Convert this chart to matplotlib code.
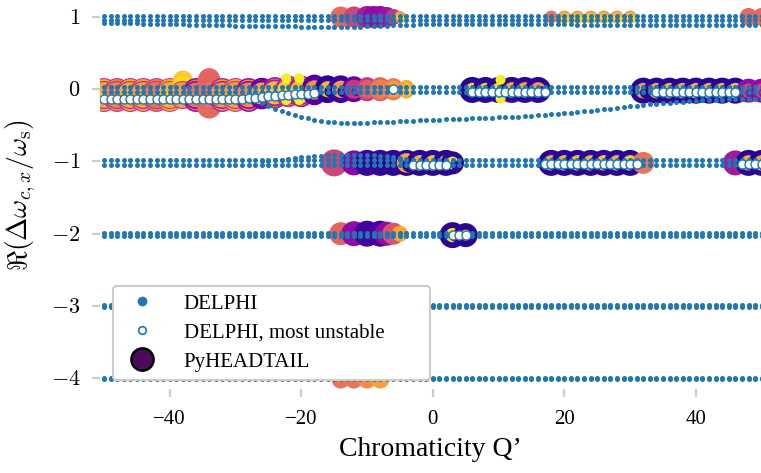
import numpy as np
import matplotlib
matplotlib.use("Agg")
import matplotlib.pyplot as plt
from matplotlib.lines import Line2D

plt.rcParams['font.family'] = ['Liberation Serif', 'DejaVu Serif']
plt.rcParams['mathtext.fontset'] = 'cm'

# ---------------- data ----------------
q_grid = list(range(-50, 51))

# DELPHI: levels of the nearly constant mode pairs (one list per azimuthal line)
delphi_pair_upper = [1.015, 0.025, -0.985, -1.985, -2.99, -3.993]
delphi_pair_lower = [0.958, -0.037, -1.045, -2.03, -3.015, -4.008]

# DELPHI: drifting mode below the +1 line (Q' = -50..50)
delphi_line1_low = [
    0.920, 0.918, 0.916, 0.914, 0.912, 0.910, 0.908, 0.906, 0.904, 0.902,
    0.900, 0.898, 0.896, 0.894, 0.892, 0.890, 0.888, 0.886, 0.884, 0.882,
    0.880, 0.878, 0.876, 0.875, 0.874, 0.873, 0.872, 0.871, 0.870, 0.869,
    0.868, 0.867, 0.866, 0.866, 0.866, 0.866, 0.866, 0.866, 0.867, 0.868,
    0.870, 0.872, 0.875, 0.878, 0.882, 0.886, 0.890, 0.894, 0.897, 0.900,
    0.902, 0.902, 0.902, 0.902, 0.902, 0.902, 0.902, 0.902, 0.902, 0.902,
    0.901, 0.901, 0.900, 0.900, 0.899, 0.899, 0.898, 0.898, 0.897, 0.897,
    0.896, 0.896, 0.895, 0.895, 0.895, 0.894, 0.894, 0.894, 0.893, 0.893,
    0.893, 0.892, 0.892, 0.892, 0.891, 0.891, 0.891, 0.890, 0.890, 0.890,
    0.890, 0.889, 0.889, 0.889, 0.888, 0.888, 0.888, 0.888, 0.887, 0.887,
    0.887]

# DELPHI: lower branch of the 0 line, Q' = -27..50
delphi_branch0_q = list(range(-27, 51))
delphi_branch0_re = [
    -0.150, -0.190, -0.230, -0.270, -0.305, -0.330, -0.355, -0.380, -0.400, -0.420,
    -0.435, -0.450, -0.460, -0.463, -0.465, -0.465, -0.465, -0.462, -0.460, -0.455,
    -0.450, -0.447, -0.443, -0.440, -0.435, -0.430, -0.427, -0.423, -0.420, -0.415,
    -0.412, -0.410, -0.407, -0.404, -0.400, -0.397, -0.394, -0.390, -0.386, -0.382,
    -0.378, -0.373, -0.368, -0.362, -0.356, -0.350, -0.343, -0.335, -0.327, -0.318,
    -0.308, -0.298, -0.288, -0.278, -0.268, -0.258, -0.248, -0.238, -0.228, -0.219,
    -0.210, -0.202, -0.194, -0.186, -0.179, -0.172, -0.166, -0.161, -0.156, -0.152,
    -0.148, -0.145, -0.142, -0.139, -0.136, -0.134, -0.132, -0.130]

# DELPHI: branch rising from the -1 line, Q' = -26..-3
delphi_branch1_q = list(range(-26, -2))
delphi_branch1_re = [
    -1.000, -0.992, -0.985, -0.975, -0.965, -0.955, -0.945, -0.935, -0.925, -0.918,
    -0.912, -0.908, -0.906, -0.905, -0.905, -0.906, -0.908, -0.912, -0.918, -0.925,
    -0.935, -0.950, -0.965, -0.985]

# DELPHI most unstable mode
unst_q = (list(range(-50, -17)) + [-6] + list(range(6, 18)) + list(range(34, 47))
          + list(range(-3, 3)) + list(range(17, 32)) + list(range(47, 51)) + [3, 4, 5])
unst_re = ([-0.14] * 20 + [-0.135, -0.13, -0.125, -0.12, -0.11, -0.10, -0.09, -0.085,
                           -0.08, -0.07, -0.065, -0.06, -0.055]
           + [0.0] + [-0.045] * 12 + [-0.04] * 13
           + [-1.045] * 6 + [-1.035] * 15 + [-1.035] * 4 + [-2.02] * 3)

# PyHEADTAIL: position, outer diameter (px), vertical spread, outer colour,
# ring colour / ratio, core colour / ratio
pht_q = [
    # +1 line
    -14, -12, -10, -9, -8, -7, -6, -5,
    18, 20, 22, 24, 26, 28, 30, 48, 50,
    # 0 line, left
    -50, -48, -46, -44, -42, -40, -38, -38, -36, -34, -34, -34, -32, -30, -28,
    -26, -24, -22, -20, -18, -16, -14, -12, -10, -8, -6, -4,
    -22.3, -22.3, -20.3, -20.3,
    # 0 line, middle and right
    6, 8, 10, 12, 14, 16, 10.3, 10.3,
    32, 34, 36, 38, 40, 42, 44, 46, 48, 50,
    # -1 line
    -15, -12, -10, -8, -6, -4, -2, 0, 2, 3,
    18, 20, 22, 24, 26, 28, 30, 32,
    46, 48, 50,
    # -2 line
    -14, -12, -10, -8, -7, -6, -5, 3, 5,
    # -4 line
    -14, -12, -10, -8]
pht_re = [
    1.0, 1.0, 1.0, 1.0, 1.0, 1.0, 1.0, 1.0,
    1.0, 1.0, 1.0, 1.0, 1.0, 1.0, 1.0, 1.0, 1.0,
    -0.08, -0.08, -0.08, -0.08, -0.08, -0.08, 0.06, -0.08, -0.08, 0.08, -0.24, -0.08, -0.08, -0.08, -0.08,
    -0.06, -0.05, -0.03, -0.03, -0.01, 0.0, 0.0, 0.0, 0.0, 0.0, 0.0, 0.0,
    0.15, -0.15, 0.15, -0.15,
    -0.01, -0.01, -0.01, -0.01, -0.01, -0.01, 0.13, -0.13,
    -0.02, -0.02, -0.02, -0.02, -0.02, -0.02, -0.02, -0.02, -0.02, -0.02,
    -1.02, -1.02, -1.02, -1.02, -1.02, -1.02, -1.02, -1.02, -1.02, -1.02,
    -1.02, -1.02, -1.02, -1.02, -1.02, -1.02, -1.02, -1.02,
    -1.02, -1.02, -1.02,
    -2.0, -2.0, -2.0, -2.0, -2.0, -2.0, -2.0, -2.02, -2.02,
    -4.02, -4.02, -4.02, -4.02]
pht_dy = ([0.0] * 17
          + [0.06] * 7 + [0.0] + [0.06, 0.06, 0.0, 0.0] + [0.06] * 3
          + [0.05] * 5 + [0.03] * 7
          + [0.0] * 4 + [0.0] * 18 + [0.0] * 21 + [0.0] * 9 + [0.0] * 4)
pht_d = [
    21, 21, 22, 22, 22, 20, 16, 12,
    13, 13, 13, 13, 13, 13, 13, 18, 18,
    28, 28, 28, 28, 28, 28, 22, 28, 28, 24, 24, 28, 28, 28, 28,
    27, 27, 27, 27, 26, 26, 26, 24, 22, 22, 20, 16,
    10, 10, 10, 10,
    26, 26, 26, 26, 26, 26, 10, 10,
    26, 26, 26, 26, 26, 26, 26, 26, 24, 24,
    27, 25, 26, 26, 26, 26, 26, 26, 26, 23,
    26, 26, 26, 26, 26, 26, 26, 22,
    25, 26, 26,
    23, 25, 26, 26, 24, 22, 16, 26, 24,
    18, 18, 18, 18]
pht_c = [
    0.62, 0.50, 0.35, 0.30, 0.30, 0.33, 0.45, 0.75,
    0.66, 0.78, 0.78, 0.78, 0.78, 0.78, 0.78, 0.62, 0.62,
    0.40, 0.42, 0.40, 0.40, 0.45, 0.45, 0.85, 0.45, 0.30, 0.60, 0.62, 0.55, 0.35, 0.45, 0.30,
    0.20, 0.35, 0.40, 0.35, 0.15, 0.05, 0.08, 0.20, 0.45, 0.60, 0.65, 0.80,
    0.97, 0.97, 0.97, 0.97,
    0.05, 0.05, 0.05, 0.05, 0.05, 0.05, 0.97, 0.97,
    0.05, 0.05, 0.05, 0.05, 0.05, 0.05, 0.05, 0.05, 0.30, 0.30,
    0.50, 0.28, 0.08, 0.06, 0.06, 0.05, 0.05, 0.05, 0.05, 0.05,
    0.05, 0.05, 0.05, 0.05, 0.05, 0.05, 0.05, 0.65,
    0.35, 0.05, 0.05,
    0.60, 0.30, 0.10, 0.12, 0.30, 0.55, 0.80, 0.05, 0.05,
    0.65, 0.65, 0.72, 0.78]
pht_c2 = [
    0.62, 0.50, 0.35, 0.30, 0.30, 0.33, 0.45, 0.92,
    0.66, 0.92, 0.92, 0.92, 0.92, 0.92, 0.92, 0.62, 0.62,
    0.80, 0.70, 0.80, 0.78, 0.66, 0.82, 0.92, 0.78, 0.66, 0.62, 0.62, 0.64, 0.76, 0.78, 0.72,
    0.80, 0.85, 0.90, 0.85, 0.74, 0.85, 0.78, 0.45, 0.58, 0.68, 0.76, 0.85,
    0.97, 0.97, 0.97, 0.97,
    0.92, 0.88, 0.92, 0.80, 0.78, 0.75, 0.97, 0.97,
    0.80, 0.80, 0.82, 0.80, 0.82, 0.80, 0.82, 0.85, 0.50, 0.50,
    0.50, 0.28, 0.08, 0.06, 0.06, 0.80, 0.82, 0.85, 0.80, 0.95,
    0.80, 0.82, 0.85, 0.82, 0.85, 0.82, 0.88, 0.65,
    0.35, 0.80, 0.80,
    0.60, 0.30, 0.10, 0.12, 0.30, 0.55, 0.80, 0.95, 0.95,
    0.65, 0.65, 0.72, 0.78]
pht_r2 = [
    1, 1, 1, 1, 1, 1, 1, 0.6,
    1, 0.6, 0.6, 0.6, 0.6, 0.6, 0.6, 1, 1,
    0.92, 0.92, 0.92, 0.92, 0.92, 0.92, 0.90, 0.92, 0.88, 1.0, 1.0, 0.95, 0.90, 0.92, 0.88,
    0.82, 0.86, 0.86, 0.86, 0.74, 0.62, 0.66, 0.80, 0.86, 0.88, 0.88, 0.88,
    1, 1, 1, 1,
    0.55, 0.55, 0.55, 0.60, 0.60, 0.60, 1, 1,
    0.60, 0.60, 0.60, 0.60, 0.60, 0.60, 0.60, 0.60, 0.60, 0.60,
    1, 1, 1, 1, 1, 0.75, 0.60, 0.60, 0.60, 0.55,
    0.60, 0.60, 0.60, 0.60, 0.60, 0.60, 0.60, 1,
    1, 0.60, 0.60,
    1, 1, 1, 1, 1, 1, 1, 0.55, 0.45,
    1, 1, 1, 1]
pht_c3 = [
    0.62, 0.50, 0.35, 0.30, 0.30, 0.33, 0.45, 0.92,
    0.66, 0.92, 0.92, 0.92, 0.92, 0.92, 0.92, 0.62, 0.62,
    0.95, 0.66, 0.95, 0.88, 0.75, 0.92, 0.97, 0.82, 0.80, 0.60, 0.62, 0.64, 0.88, 0.90, 0.92,
    0.95, 0.97, 0.97, 0.95, 0.90, 0.05, 0.05, 0.20, 0.60, 0.70, 0.80, 0.90,
    0.97, 0.97, 0.97, 0.97,
    0.05, 0.05, 0.05, 0.05, 0.05, 0.05, 0.97, 0.97,
    0.05, 0.05, 0.05, 0.05, 0.05, 0.05, 0.05, 0.05, 0.30, 0.30,
    0.50, 0.95, 0.08, 0.06, 0.06, 0.05, 0.05, 0.05, 0.05, 0.05,
    0.05, 0.05, 0.05, 0.05, 0.05, 0.05, 0.05, 0.65,
    0.35, 0.05, 0.05,
    0.60, 0.95, 0.10, 0.12, 0.30, 0.55, 0.80, 0.05, 0.05,
    0.65, 0.65, 0.72, 0.78]
pht_r3 = [
    1, 1, 1, 1, 1, 1, 1, 0.6,
    1, 0.6, 0.6, 0.6, 0.6, 0.6, 0.6, 1, 1,
    0.45, 0.45, 0.45, 0.45, 0.45, 0.45, 0.45, 0.45, 0.45, 1.0, 1.0, 1.0, 0.45, 0.45, 0.40,
    0.38, 0.38, 0.38, 0.38, 0.35, 0.45, 0.45, 0.40, 0.40, 0.40, 0.40, 0.40,
    1, 1, 1, 1,
    0.45, 0.45, 0.45, 0.45, 0.45, 0.45, 1, 1,
    0.45, 0.45, 0.45, 0.45, 0.45, 0.45, 0.45, 0.45, 0.45, 0.45,
    1, 0.15, 1, 1, 1, 0.55, 0.45, 0.45, 0.45, 0.40,
    0.45, 0.45, 0.45, 0.45, 0.45, 0.45, 0.45, 1,
    1, 0.45, 0.45,
    1, 0.15, 1, 1, 1, 1, 1, 0.35, 0.30,
    1, 1, 1, 1]

# axis ticks
xtick_vals = [-40, -20, 0, 20, 40]
xtick_labels = ['\u221240', '\u221220', '0', '20', '40']
ytick_vals = [1, 0, -1, -2, -3, -4]
ytick_labels = [r'$1$', r'$0$', r'$-1$', r'$-2$', r'$-3$', r'$-4$']

# ---------------- plot ----------------
W, H, DPI = 761, 473, 100
fig = plt.figure(figsize=(W / DPI, H / DPI), dpi=DPI)
ax = fig.add_axes([100 / W, 84 / H, 661 / W, 389 / H])
ax.set_xlim(-50.6, 49.9)
ax.set_ylim(-4.15, 1.235)

cmap = plt.get_cmap('plasma')
px2pt = 72.0 / DPI

# PyHEADTAIL layered markers (outer, ring, offset core), drawn point after point
xs, ys, ss, cs = [], [], [], []
for q, re, dy, d, c, c2, r2, c3, r3 in zip(pht_q, pht_re, pht_dy, pht_d, pht_c,
                                            pht_c2, pht_r2, pht_c3, pht_r3):
    if dy > 0:
        for yy in (re + dy, re - dy):
            xs.append(q); ys.append(yy); ss.append((d * 0.9 * px2pt) ** 2); cs.append(c)
        for yy in (re + dy, re - dy):
            xs.append(q); ys.append(yy); ss.append((d * 0.9 * r2 * px2pt) ** 2); cs.append(c2)
    xs.append(q); ys.append(re); ss.append((d * px2pt) ** 2); cs.append(c)
    if r2 < 1:
        xs.append(q); ys.append(re); ss.append((d * r2 * px2pt) ** 2); cs.append(c2)
    if r3 < 1:
        xs.append(q + 0.4); ys.append(re - 0.03); ss.append((d * r3 * px2pt) ** 2); cs.append(c3)
ax.scatter(xs, ys, s=ss, c=cs, cmap=cmap, vmin=0, vmax=1, linewidths=0, zorder=2)

# DELPHI modes
blue = '#1f77b4'
dot_s = 13
for up, lo in zip(delphi_pair_upper, delphi_pair_lower):
    ax.scatter(q_grid, [up] * len(q_grid), s=dot_s, color=blue, linewidths=0, zorder=3)
    ax.scatter(q_grid, [lo] * len(q_grid), s=dot_s, color=blue, linewidths=0, zorder=3)
ax.scatter(q_grid, delphi_line1_low, s=dot_s, color=blue, linewidths=0, zorder=3)
ax.scatter(delphi_branch0_q, delphi_branch0_re, s=dot_s, color=blue, linewidths=0, zorder=3)
ax.scatter(delphi_branch1_q, delphi_branch1_re, s=dot_s, color=blue, linewidths=0, zorder=3)

# DELPHI most unstable
ax.scatter(unst_q, unst_re, s=42, facecolor='white', edgecolor=blue, linewidths=1.0, zorder=4)

# axes styling
for sp in ax.spines.values():
    sp.set_visible(False)
ax.set_xticks(xtick_vals)
ax.set_xticklabels(xtick_labels, fontsize=15)
ax.set_yticks(ytick_vals)
ax.set_yticklabels(ytick_labels, fontsize=16)
ax.tick_params(axis='both', color='#cccccc', width=1.6, length=6)
ax.tick_params(axis='x', pad=9)
ax.tick_params(axis='y', pad=8)
ax.set_xlabel('Chromaticity Q\u2019', fontsize=20, labelpad=6)
ax.set_ylabel(r'$\Re(\Delta\omega_{c,x}/\omega_\mathrm{s})$', fontsize=20, labelpad=9)

handles = [
    Line2D([], [], ls='none', marker='o', color=blue, markersize=6),
    Line2D([], [], ls='none', marker='o', markerfacecolor='white', markeredgecolor=blue,
           markersize=5.5, markeredgewidth=1.2),
    Line2D([], [], ls='none', marker='o', markerfacecolor='#4a0c5a', markeredgecolor='black',
           markersize=16, markeredgewidth=1.8),
]
leg = ax.legend(handles, ['DELPHI', 'DELPHI, most unstable', 'PyHEADTAIL'], loc='lower left',
                bbox_to_anchor=(13 / 661, 9 / 389, 317 / 661, 0.2), mode='expand',
                fontsize=15, frameon=True, framealpha=1, edgecolor='#cccccc',
                borderaxespad=0, handletextpad=1.0, labelspacing=0.45, borderpad=0.4)
leg.get_frame().set_linewidth(1.5)
leg.set_zorder(10)

fig.savefig('out.png', dpi=DPI)
